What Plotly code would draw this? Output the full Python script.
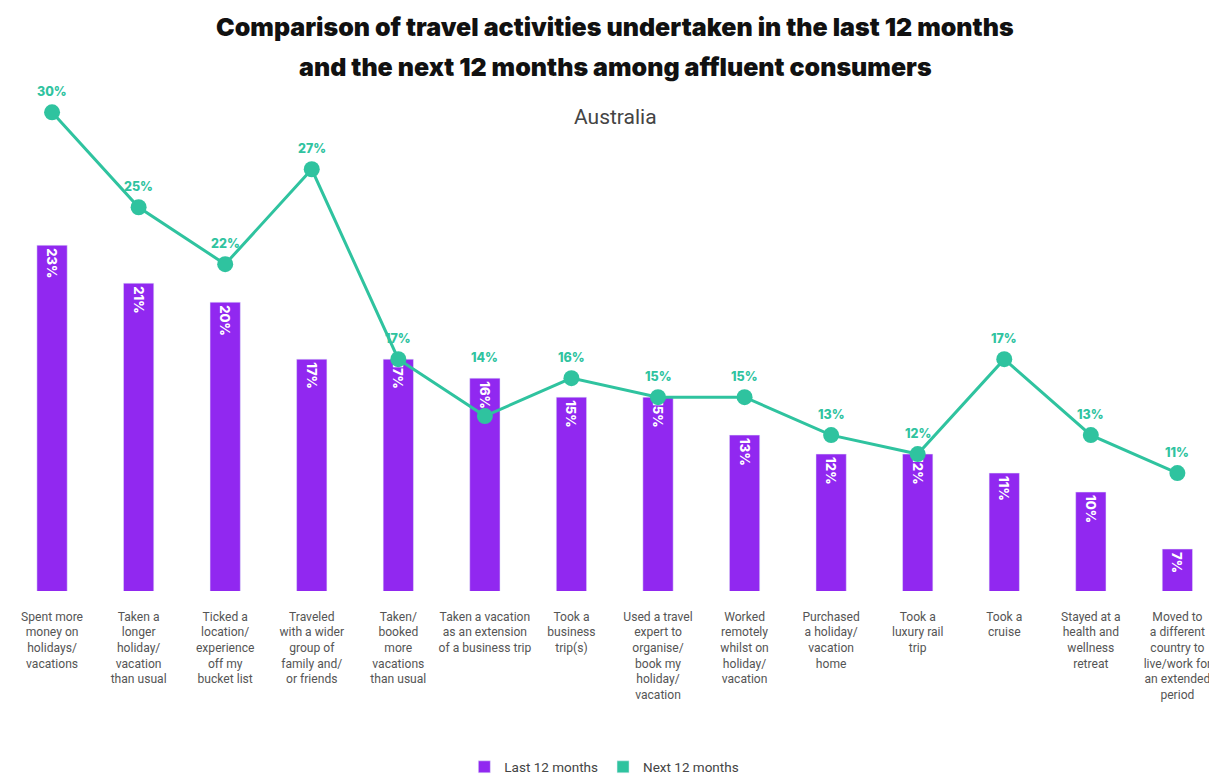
import plotly.graph_objects as go

categories = [
    "Spent more<br>money on<br>holidays/<br>vacations",
    "Taken a<br>longer<br>holiday/<br>vacation<br>than usual",
    "Ticked a<br>location/<br>experience<br>off my<br>bucket list",
    "Traveled<br>with a wider<br>group of<br>family and/<br>or friends",
    "Taken/<br>booked<br>more<br>vacations<br>than usual",
    "Taken a vacation<br>as an extension<br>of a business trip",
    "Took a<br>business<br>trip(s)",
    "Used a travel<br>expert to<br>organise/<br>book my<br>holiday/<br>vacation",
    "Worked<br>remotely<br>whilst on<br>holiday/<br>vacation",
    "Purchased<br>a holiday/<br>vacation<br>home",
    "Took a<br>luxury rail<br>trip",
    "Took a<br>cruise",
    "Stayed at a<br>health and<br>wellness<br>retreat",
    "Moved to<br>a different<br>country to<br>live/work for<br>an extended<br>period",
]
last_12 = [23, 21, 20, 17, 17, 16, 15, 15, 13, 12, 12, 11, 10, 7]
next_12 = [30, 25, 22, 27, 17, 14, 16, 15, 15, 13, 12, 17, 13, 11]

PURPLE = "#9128f0"
TEAL = "#2fc39f"

x_idx = list(range(len(categories)))

fig = go.Figure()

# barres "Last 12 months"
fig.add_trace(go.Bar(
    x=x_idx,
    y=last_12,
    name="Last 12 months",
    marker_color=PURPLE,
    width=0.35,
    text=[f"{v}%" for v in last_12],
    textposition="inside",
    insidetextanchor="end",
    textangle=90,
    textfont=dict(color="white", size=13, family="Inter", weight=800),
    base=0,
))

# ligne "Next 12 months"
fig.add_trace(go.Scatter(
    x=x_idx,
    y=next_12,
    mode="lines+markers",
    line=dict(color=TEAL, width=3),
    marker=dict(size=16, color=TEAL),
    cliponaxis=False,
    showlegend=False,
))

# étiquettes de la ligne, au-dessus de la plus haute des deux marques
for i, (a, b) in enumerate(zip(last_12, next_12)):
    fig.add_annotation(x=i, y=max(a, b), text=f"{b}%", showarrow=False,
                       yanchor="bottom", yshift=11,
                       font=dict(color=TEAL, size=12.5, family="Inter", weight=800))

# entrée de légende carrée pour la ligne
fig.add_trace(go.Bar(
    x=[None], y=[None],
    name="Next 12 months",
    marker_color=TEAL,
))

fig.add_annotation(text="Comparison of travel activities undertaken in the last 12 months",
                   x=0.499, y=1.122, xref="paper", yref="paper", showarrow=False,
                   yanchor="middle",
                   font=dict(size=25, color="#111", family="Inter", weight=900))
fig.add_annotation(text="and the next 12 months among affluent consumers",
                   x=0.499, y=1.041, xref="paper", yref="paper", showarrow=False,
                   yanchor="middle",
                   font=dict(size=25, color="#111", family="Inter", weight=900))
fig.add_annotation(text="Australia",
                   x=0.499, y=0.9416, xref="paper", yref="paper", showarrow=False,
                   yanchor="middle",
                   font=dict(size=21, color="#444", family="Roboto"))

fig.update_layout(
    width=1217,
    height=775,
    margin=dict(l=0, r=0, t=80, b=185),
    paper_bgcolor="white",
    plot_bgcolor="white",
    barmode="overlay",
    xaxis=dict(
        range=[-0.509, 13.55],
        tickmode="array",
        tickvals=x_idx,
        ticktext=categories,
        tickfont=dict(size=12.1, color="#555", family="Roboto"),
        showgrid=False,
        zeroline=False,
        showline=False,
        ticks="outside",
        ticklen=14,
        tickcolor="rgba(0,0,0,0)",
    ),
    yaxis=dict(
        range=[4.79, 31.28],
        visible=False,
        showgrid=False,
    ),
    legend=dict(
        orientation="h",
        x=0.49, xanchor="center",
        y=-0.35, yanchor="middle",
        font=dict(size=13.5, color="#444", family="Roboto"),
        itemwidth=30,
    ),
)

fig.write_html("out.html")
